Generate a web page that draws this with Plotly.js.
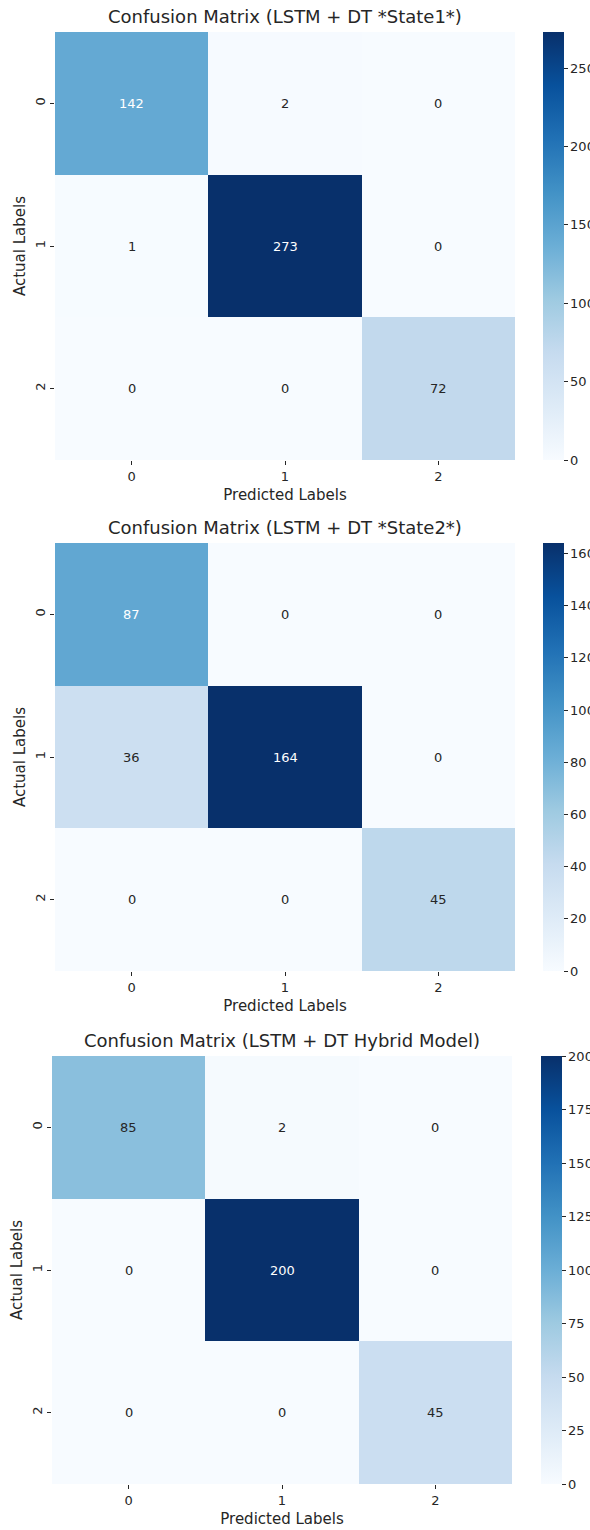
<!DOCTYPE html>
<html>
<head>
<meta charset="utf-8">
<script src="https://cdn.plot.ly/plotly-3.0.1.min.js"></script>
<style>html,body{margin:0;padding:0;background:#fff;overflow:hidden;}#chart{width:640px;height:1530px;}</style>
</head>
<body>
<div id="chart"></div>
<script>
// Data
const classLabels = ['0', '1', '2'];
const titles = [
  'Confusion Matrix (LSTM + DT *State1*)',
  'Confusion Matrix (LSTM + DT *State2*)',
  'Confusion Matrix (LSTM + DT Hybrid Model)'
];
const cmState1 = [[142, 2, 0], [1, 273, 0], [0, 0, 72]];
const cmState2 = [[87, 0, 0], [36, 164, 0], [0, 0, 45]];
const cmHybrid = [[85, 2, 0], [0, 200, 0], [0, 0, 45]];
const cbTicks1 = [0, 50, 100, 150, 200, 250];
const cbTicks2 = [0, 20, 40, 60, 80, 100, 120, 140, 160];
const cbTicks3 = [0, 25, 50, 75, 100, 125, 150, 175, 200];

const matrices = [cmState1, cmState2, cmHybrid];
const cbTicks = [cbTicks1, cbTicks2, cbTicks3];

// Layout geometry (pixels); the figure is wider than the 590px window so the
// colorbar tick labels are cut at the window edge, as in the reference.
const W = 640, H = 1530;
const boxes = [
  {l: 55, r: 515, t: 32, b: 460, cbx: 543},
  {l: 55, r: 515, t: 543, b: 971, cbx: 543},
  {l: 52, r: 512, t: 1056, b: 1484, cbx: 541}
];
const blues = [
  [0.0, '#f7fbff'], [0.125, '#deebf7'], [0.25, '#c6dbef'], [0.375, '#9ecae1'],
  [0.5, '#6baed6'], [0.625, '#4292c6'], [0.75, '#2171b5'], [0.875, '#08519c'], [1.0, '#08306b']
];
const font = 'DejaVu Sans, sans-serif';
const dark = '#262626';

const traces = [];
const annotations = [];
const layout = {
  width: W, height: H,
  margin: {l: 0, r: 0, t: 0, b: 0},
  paper_bgcolor: '#fff', plot_bgcolor: '#fff',
  font: {family: font, color: dark, size: 13},
  showlegend: false,
  annotations: annotations
};

matrices.forEach((m, i) => {
  const bx = boxes[i];
  const n = i + 1;
  const xa = n === 1 ? 'x' : 'x' + n;
  const ya = n === 1 ? 'y' : 'y' + n;
  const zmax = Math.max(...m.flat());
  traces.push({
    type: 'heatmap',
    z: m, x: classLabels, y: classLabels,
    xaxis: xa, yaxis: ya,
    zmin: 0, zmax: zmax,
    colorscale: blues,
    hoverinfo: 'skip',
    colorbar: {
      x: bx.cbx / W, xanchor: 'left',
      y: 1 - (bx.t + bx.b) / 2 / H, yanchor: 'middle',
      len: (bx.b - bx.t) / H, lenmode: 'fraction',
      thickness: 21, thicknessmode: 'pixels',
      outlinewidth: 0,
      ticks: 'outside', ticklen: 4, tickwidth: 1, tickcolor: dark,
      tickvals: cbTicks[i],
      tickfont: {family: font, size: 13, color: dark},
      xpad: 0, ypad: 0
    }
  });
  const xkey = n === 1 ? 'xaxis' : 'xaxis' + n;
  const ykey = n === 1 ? 'yaxis' : 'yaxis' + n;
  layout[xkey] = {
    domain: [bx.l / W, bx.r / W],
    anchor: ya,
    type: 'category',
    showgrid: false, zeroline: false, showline: false,
    ticks: 'outside', ticklen: 4, tickcolor: dark,
    tickfont: {family: font, size: 13, color: dark},
    title: {text: 'Predicted Labels', font: {family: font, size: 15, color: dark}, standoff: 6},
    fixedrange: true
  };
  layout[ykey] = {
    domain: [1 - bx.b / H, 1 - bx.t / H],
    anchor: xa,
    type: 'category',
    autorange: 'reversed',
    showgrid: false, zeroline: false, showline: false,
    ticks: 'outside', ticklen: 4, tickcolor: dark,
    tickangle: -90,
    tickfont: {family: font, size: 13, color: dark},
    title: {text: 'Actual Labels', font: {family: font, size: 15, color: dark}, standoff: 3},
    fixedrange: true
  };
  // title
  annotations.push({
    xref: 'paper', yref: 'paper',
    x: (bx.l + bx.r) / 2 / W, y: 1 - (bx.t - 3) / H,
    xanchor: 'center', yanchor: 'bottom',
    text: titles[i], showarrow: false,
    font: {family: font, size: 18, color: dark}
  });
  // cell values
  m.forEach((row, r) => {
    row.forEach((v, c) => {
      annotations.push({
        xref: xa, yref: ya,
        x: classLabels[c], y: classLabels[r],
        text: String(v), showarrow: false,
        font: {family: font, size: 13, color: v / zmax > 0.5 ? '#ffffff' : dark}
      });
    });
  });
});

Plotly.newPlot('chart', traces, layout, {displayModeBar: false, staticPlot: true});
</script>
</body>
</html>
